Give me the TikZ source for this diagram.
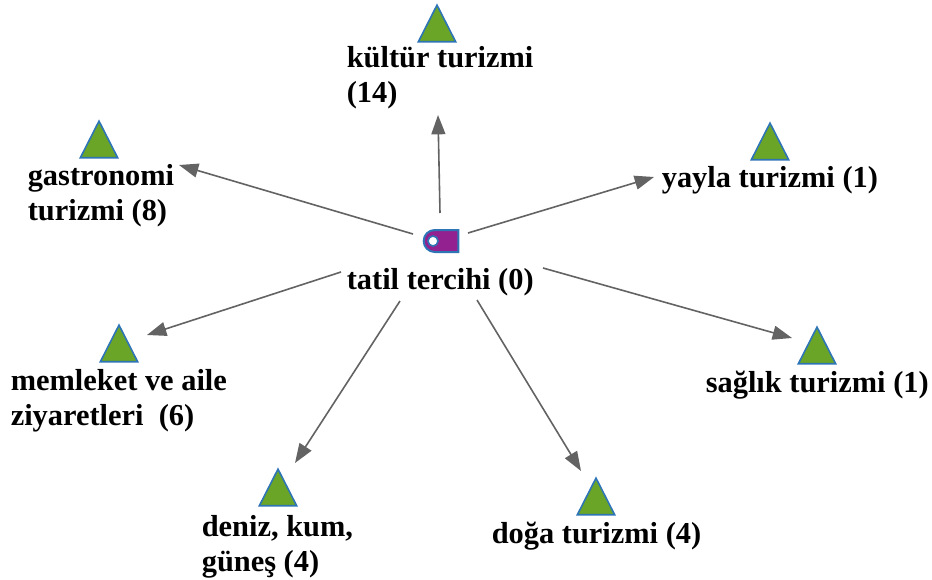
\documentclass[tikz,border=0pt]{standalone}
\usepackage{fontspec}
\setmainfont{Liberation Serif}
\usetikzlibrary{arrows.meta, shapes.geometric, shapes.misc}

\definecolor{arrowgray}{HTML}{636363}
\definecolor{trigreen}{HTML}{6AA527}
\definecolor{edgeblue}{HTML}{2E75B6}
\definecolor{hubpurple}{HTML}{93218F}

\begin{document}
\begin{tikzpicture}[
            x = 0.75pt, % one unit is one pixel of the reference
            y = -0.75pt,
            > = {Triangle[length=14.5pt, width=10.5pt]}, % arrow head style
            auto,
            line width = 1.2pt % line style
        ]

        \tikzstyle{every tri}=[
            draw = edgeblue,
            fill = trigreen,
            line width = 1.2pt,
            shape = isosceles triangle,
            isosceles triangle stretches,
            shape border rotate = 90,
            minimum width = 28pt,
            minimum height = 27.5pt,
            inner sep = 0pt,
            anchor = apex
        ]
        \tikzstyle{every lbl}=[
            font = \bfseries\fontsize{22.8}{26}\selectfont,
            align = left,
            inner sep = 0pt,
            anchor = west
        ]
        \tikzstyle{link}=[->, color = arrowgray]

	\useasboundingbox (0,0) rectangle (932,579);

	% middle
	\node[rounded rectangle, rounded rectangle east arc=none, draw=edgeblue, fill=hubpurple,
	      line width=1.5pt, minimum width=26pt, minimum height=16.5pt, inner sep=0pt] (hub) at (441,241) {};
	\node[circle, draw=edgeblue, fill=white, line width=1.2pt, minimum size=7.5pt, inner sep=0pt] (hole) at (433,241) {};
	\node[every lbl] (tatil) at (346,282) {tatil tercihi (0)};

	% triangles
	\node[every tri] (tkultur) at (437,3) {};
	\node[every tri] (tgastro) at (99,119) {};
	\node[every tri] (tyayla) at (770,121) {};
	\node[every tri] (tmemleket) at (119,323) {};
	\node[every tri] (tsaglik) at (817,325) {};
	\node[every tri] (tdeniz) at (278,467) {};
	\node[every tri] (tdoga) at (596,476) {};

	% labels
	\node[every lbl] (kultur) at (346,78) {kültür turizmi\\(14)};
	\node[every lbl] (gastro) at (27,196) {gastronomi\\turizmi (8)};
	\node[every lbl] (yayla) at (661,180) {yayla turizmi (1)};
	\node[every lbl] (memleket) at (10,401) {memleket ve aile\\ziyaretleri\ \ (6)};
	\node[every lbl] (saglik) at (705,385) {sağlık turizmi (1)};
	\node[every lbl] (deniz) at (201,547) {deniz, kum,\\güneş (4)};
	\node[every lbl] (doga) at (491,536) {doğa turizmi (4)};

	% arrow ends
	\coordinate (skultur) at (440,213);
	\coordinate (ekultur) at (438,115);
	\coordinate (sgastro) at (413,234);
	\coordinate (egastro) at (179,165);
	\coordinate (syayla) at (468,233);
	\coordinate (eyayla) at (654,177);
	\coordinate (smemleket) at (341,272);
	\coordinate (ememleket) at (147,335);
	\coordinate (ssaglik) at (543,268);
	\coordinate (esaglik) at (792,338);
	\coordinate (sdeniz) at (400,301);
	\coordinate (edeniz) at (295,463);
	\coordinate (sdoga) at (477,300);
	\coordinate (edoga) at (581,471);

	\path[link] (skultur) edge node {} (ekultur);
	\path[link] (sgastro) edge node {} (egastro);
	\path[link] (syayla) edge node {} (eyayla);
	\path[link] (smemleket) edge node {} (ememleket);
	\path[link] (ssaglik) edge node {} (esaglik);
	\path[link] (sdeniz) edge node {} (edeniz);
	\path[link] (sdoga) edge node {} (edoga);

    \end{tikzpicture}
\end{document}
